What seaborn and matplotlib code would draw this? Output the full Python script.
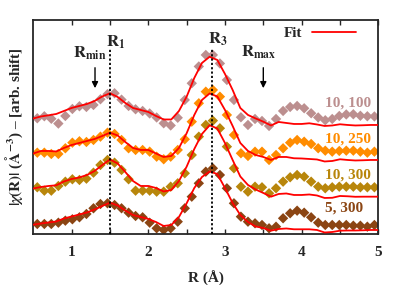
import numpy as np
import pandas as pd
import seaborn as sns
import matplotlib.pyplot as plt

# R grid of the data points (Angstrom)
r_pts = [0.552, 0.644, 0.735, 0.827, 0.918, 1.010, 1.102, 1.193, 1.285, 1.376,
         1.468, 1.560, 1.651, 1.743, 1.834, 1.926, 2.018, 2.109, 2.201, 2.292,
         2.384, 2.476, 2.567, 2.659, 2.750, 2.842, 2.934, 3.025, 3.117, 3.208,
         3.300, 3.392, 3.483, 3.575, 3.666, 3.758, 3.850, 3.941, 4.033, 4.124,
         4.216, 4.308, 4.399, 4.491, 4.582, 4.674, 4.766, 4.857, 4.949]

chi_10_100 = [1.07, 1.27, 1.02, 0.54, 1.30, 2.00, 2.27, 2.20, 2.40, 2.97,
              3.48, 3.57, 2.93, 2.30, 1.97, 1.80, 1.55, 1.15, 0.57, 0.35,
              1.12, 2.90, 4.57, 6.25, 7.40, 7.40, 6.55, 4.90, 2.90, 1.17,
              0.40, 1.00, 0.80, 0.30, 1.00, 1.80, 2.20, 2.30, 2.07, 1.57,
              1.15, 0.87, 1.00, 1.30, 1.45, 1.47, 1.32, 1.27, 1.25]
chi_10_250 = [1.13, 1.13, 1.00, 1.00, 1.57, 2.13, 2.27, 2.20, 2.40, 2.73,
              3.13, 3.00, 2.40, 1.57, 1.40, 1.40, 1.23, 0.73, 0.47, 0.73,
              1.40, 2.47, 4.23, 6.07, 7.23, 7.40, 6.73, 4.90, 2.90, 1.07,
              0.80, 1.23, 1.23, 0.40, 0.90, 1.57, 2.13, 2.40, 2.23, 2.00,
              1.57, 1.33, 1.23, 1.30, 1.33, 1.33, 1.23, 1.13, 1.23]
chi_10_300 = [1.17, 0.83, 0.83, 1.30, 1.73, 1.97, 1.90, 2.03, 2.63, 3.40,
              3.90, 3.63, 2.90, 1.97, 0.83, 0.83, 0.83, 0.73, 0.73, 1.23,
              1.57, 2.57, 4.40, 6.23, 7.40, 7.83, 7.07, 5.23, 3.07, 1.23,
              0.73, 1.23, 1.17, 0.57, 1.07, 1.73, 2.17, 2.40, 2.23, 1.73,
              1.23, 1.07, 1.17, 1.23, 1.23, 1.23, 1.17, 1.17, 1.17]
chi_5_300 = [1.00, 1.00, 1.00, 1.13, 1.33, 1.47, 1.67, 2.00, 2.57, 3.00,
             3.07, 2.90, 2.57, 2.13, 1.80, 1.67, 1.13, 0.57, 0.40, 0.57,
             1.23, 2.57, 3.73, 5.07, 6.23, 6.57, 5.90, 4.57, 3.07, 1.73,
             1.23, 1.07, 0.90, 0.57, 0.73, 1.57, 2.07, 2.33, 2.13, 1.67,
             1.13, 0.90, 0.90, 0.90, 0.90, 0.83, 0.83, 0.73, 0.90]

# fit curves
r_fit = [0.5, 0.6, 0.7, 0.8, 0.9, 1.0, 1.1, 1.2, 1.3, 1.4, 1.5, 1.6, 1.7, 1.8,
         1.9, 2.0, 2.1, 2.2, 2.3, 2.4, 2.5, 2.6, 2.7, 2.8, 2.9, 3.0, 3.1, 3.2,
         3.3, 3.4, 3.5, 3.6, 3.7, 3.8, 3.9, 4.0, 4.1, 4.2, 4.3, 4.4, 4.5, 4.6,
         4.7, 4.8, 4.9, 5.0]
fit_10_100 = [1.05, 1.25, 1.37, 1.50, 1.80, 2.10, 2.30, 2.50, 2.80, 3.25, 3.57, 3.20,
              2.60, 2.10, 1.90, 1.70, 1.30, 0.95, 0.95, 1.80, 3.23, 5.10, 6.60, 7.22,
              6.90, 5.50, 3.90, 2.10, 1.40, 1.05, 0.73, 0.35, 0.70, 0.60, 0.50, 0.50,
              0.57, 0.45, 0.30, 0.35, 0.47, 0.40, 0.35, 0.37, 0.40, 0.40]
fit_10_250 = [1.05, 1.30, 1.30, 1.25, 1.60, 1.90, 2.10, 2.30, 2.50, 2.80, 3.13, 2.85,
              2.20, 1.60, 1.40, 1.40, 1.05, 0.70, 0.80, 1.60, 3.07, 4.90, 6.40, 7.05,
              6.75, 5.40, 3.80, 2.10, 1.30, 0.90, 0.70, 0.40, 0.70, 0.70, 0.57, 0.55,
              0.50, 0.45, 0.25, 0.30, 0.47, 0.40, 0.35, 0.37, 0.40, 0.40]
fit_10_300 = [1.05, 1.20, 1.30, 1.37, 1.75, 2.00, 2.15, 2.40, 2.80, 3.40, 3.95, 3.55,
              2.70, 1.80, 1.30, 1.30, 1.10, 0.75, 0.90, 1.80, 3.23, 5.00, 6.50, 7.37,
              7.05, 5.60, 3.90, 2.25, 1.40, 0.95, 0.60, 0.23, 0.50, 0.55, 0.40, 0.40,
              0.45, 0.35, 0.10, 0.12, 0.30, 0.27, 0.22, 0.23, 0.23, 0.23]
fit_5_300 = [0.93, 1.05, 1.15, 1.25, 1.55, 1.75, 1.95, 2.15, 2.45, 2.80, 3.13, 2.85,
             2.35, 1.90, 1.70, 1.50, 1.20, 0.80, 0.90, 1.70, 3.07, 4.60, 5.70, 6.25,
             6.00, 4.60, 3.10, 1.90, 1.20, 0.75, 0.60, 0.33, 0.50, 0.55, 0.47, 0.47,
             0.47, 0.40, 0.15, 0.20, 0.33, 0.35, 0.35, 0.37, 0.40, 0.40]

labels = ['10, 100', '10, 250', '10, 300', '5, 300']
shifts = [10.5, 7.0, 3.5, 0.0]
colors = ['#bc8f8f', '#ff8c00', '#b8860b', '#8b4513']
r_marks = [1.5, 2.83]

sns.set_style('ticks')
plt.rcParams['font.family'] = ['Liberation Serif', 'DejaVu Serif']
plt.rcParams['font.weight'] = 'bold'
plt.rcParams['mathtext.fontset'] = 'stix'
plt.rcParams['axes.linewidth'] = 1.3

data_list = [chi_10_100, chi_10_250, chi_10_300, chi_5_300]
fit_list = [fit_10_100, fit_10_250, fit_10_300, fit_5_300]

df = pd.concat([pd.DataFrame({'R': r_pts, 'chi': np.array(d) + s, 'set': lab})
                for d, s, lab in zip(data_list, shifts, labels)])
df_fit = pd.concat([pd.DataFrame({'R': r_fit, 'chi': np.array(f) + s, 'set': lab})
                    for f, s, lab in zip(fit_list, shifts, labels)])

fig = plt.figure(figsize=(4.07, 2.85), dpi=100)
ax = fig.add_axes([0.0818, 0.179, 0.8477, 0.751])

sns.scatterplot(data=df, x='R', y='chi', hue='set', palette=colors, marker='D',
                s=28, linewidth=0, legend=False, ax=ax, zorder=2)
for i, lab in enumerate(labels):
    sns.lineplot(data=df_fit[df_fit['set'] == lab], x='R', y='chi', color='red',
                 linewidth=1.3, ax=ax, zorder=3, label='Fit' if i == 0 else None)

ax.vlines(r_marks, 0, 18.5, colors='black', linestyles=(0, (1.2, 1.2)), linewidth=1.3, zorder=4)

ax.set_xlim(0.5, 5)
ax.set_ylim(0, 21.4)
ax.set_xticks([1, 2, 3, 4, 5])
ax.set_xticks([1.5, 2.5, 3.5, 4.5], minor=True)
ax.set_yticks([])
ax.tick_params(axis='x', which='both', direction='in', top=True, length=3.5,
               width=1, labelsize=11, pad=9)
for t in ax.get_xticklabels():
    t.set_fontweight('bold')
ax.set_xlabel('R (Å)', fontsize=11, fontweight='bold', labelpad=8)
ax.set_ylabel(r'$|\chi(\mathbf{R})|$ ($\mathbf{\AA}^{-3}$) – [arb. shift]',
              fontsize=11, fontweight='bold', labelpad=6)

# series labels
label_y = [13.1, 9.5, 5.9, 2.55]
for lab, c, y in zip(labels, colors, label_y):
    ax.text(4.3, y, lab, color=c, fontsize=11, fontweight='bold', va='center', ha='left')

# markers for R values
ax.text(1.57, 19.2, r'$\mathbf{R_1}$', fontsize=12, ha='center', va='center')
ax.text(2.91, 19.5, r'$\mathbf{R_3}$', fontsize=12, ha='center', va='center')
ax.text(1.24, 18.1, r'$\mathbf{R_{min}}$', fontsize=12, ha='center', va='center')
ax.text(3.44, 18.2, r'$\mathbf{R_{max}}$', fontsize=12, ha='center', va='center')
ax.annotate('', xy=(1.305, 14.3), xytext=(1.305, 16.9),
            arrowprops=dict(arrowstyle='-|>', color='black', lw=1, mutation_scale=9))
ax.annotate('', xy=(3.5, 14.3), xytext=(3.5, 16.9),
            arrowprops=dict(arrowstyle='-|>', color='black', lw=1, mutation_scale=9))

leg = ax.legend(loc='upper right', bbox_to_anchor=(0.975, 1.035), frameon=False,
                markerfirst=False, handlelength=2.9, handletextpad=0.6,
                prop={'size': 11, 'weight': 'bold'})

fig.savefig('out.png', dpi=100)
